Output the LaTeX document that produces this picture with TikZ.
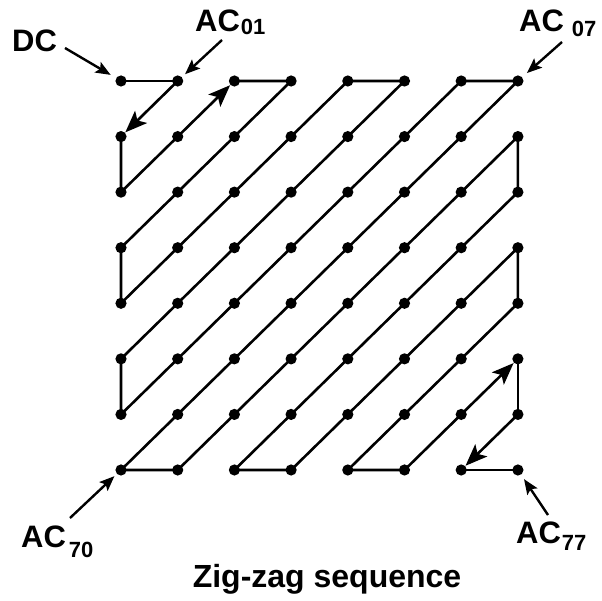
\documentclass[tikz,border=0pt]{standalone}
\usepackage{fontspec}
\setmainfont{Liberation Sans}
\usetikzlibrary{arrows.meta}
\newcommand{\subsc}[3]{\hspace{#1}\lower#2\hbox{\fontsize{22}{22}\selectfont #3}}
\tikzset{
  zz/.style={line width=2.6pt, line join=round, line cap=round},
  zzarrow/.style={zz, -{Stealth[length=22pt,width=17pt,inset=5pt]}, shorten >=6pt},
  lblarrow/.style={line width=2.4pt, -{Stealth[length=15pt,width=12pt,inset=3pt]}},
  lbl/.style={font=\fontsize{31}{31}\selectfont\bfseries, inner sep=0pt, anchor=base west},
  dot/.style={fill=black}
}
\begin{document}
\begin{tikzpicture}[x=1pt,y=-1pt]
\useasboundingbox (0,0) rectangle (602,601);
% grid points
\foreach \r in {0,...,7}{
  \foreach \c in {0,...,7}{
    \coordinate (p\r\c) at ({121+\c*56.7},{81+\r*55.57});
  }
}
% zig-zag path
\draw[zz] (p00) -- (p01);
\draw[zzarrow] (p01) -- (p10);
\draw[zz] (p10) -- (p20) -- (p11);
\draw[zzarrow] (p11) -- (p02);
\draw[zz] (p02) -- (p03) -- (p30) -- (p40) -- (p04) -- (p05) -- (p50) -- (p60) -- (p06) -- (p07)
  -- (p70) -- (p71) -- (p17) -- (p27) -- (p72) -- (p73) -- (p37) -- (p47) -- (p74) -- (p75) -- (p66);
\draw[zzarrow] (p66) -- (p57);
\draw[zz] (p57) -- (p67);
\draw[zzarrow] (p67) -- (p76);
\draw[zz] (p76) -- (p77);
% dots
\foreach \r in {0,...,7}{
  \foreach \c in {0,...,7}{
    \fill[dot] (p\r\c) circle (5.6pt);
  }
}
% labels
\node[lbl] (dc) at (12,52) {DC};
\node[lbl] (ac01) at (195,32) {AC\subsc{1pt}{3pt}{01}};
\node[lbl] (ac07) at (519,32) {AC\subsc{8pt}{5pt}{07}};
\node[lbl] (ac70) at (21,547) {AC\subsc{3pt}{10pt}{70}};
\node[lbl] (ac77) at (516,543) {AC\subsc{1pt}{7pt}{77}};
% label arrows
\coordinate (tdc) at (65,48);
\coordinate (t01) at (222,40);
\coordinate (t07) at (562,42);
\coordinate (t70) at (70,518);
\coordinate (t77) at (548,515);
\draw[lblarrow, shorten >=12pt] (tdc) -- (p00);
\draw[lblarrow, shorten >=10pt] (t01) -- (p01);
\draw[lblarrow, shorten >=12pt] (t07) -- (p07);
\draw[lblarrow, shorten >=9pt] (t70) -- (p70);
\draw[lblarrow, shorten >=11pt] (t77) -- (p77);
% caption
\node[lbl, anchor=base, font=\fontsize{32}{32}\selectfont\bfseries] (cap) at (327,587) {Zig-zag sequence};
\end{tikzpicture}
\end{document}
